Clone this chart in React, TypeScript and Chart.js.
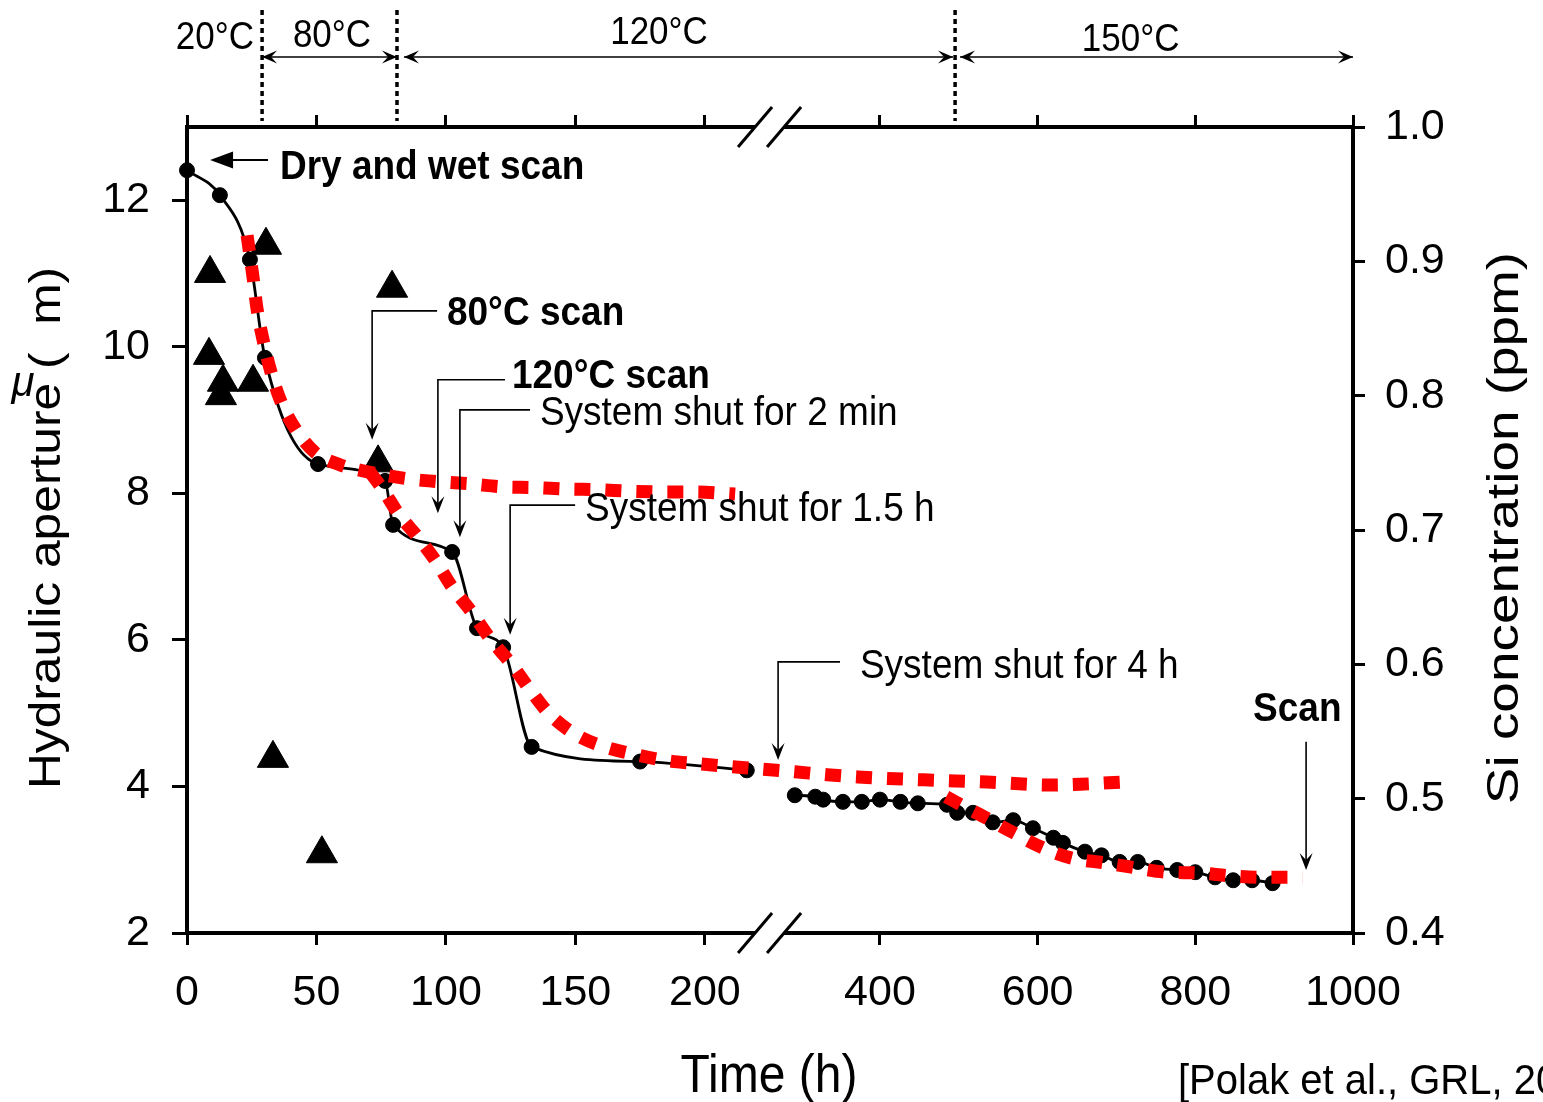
import React, { useEffect, useRef } from 'react';
import { Chart, registerables } from 'chart.js';

Chart.register(...registerables);

// ---- broken time axis: 0–225 h at full scale, 260–1000 h compressed ----
const BREAK_FROM = 225;
const BREAK_TO = 260;
const SECOND_SEGMENT_SCALE = 0.3045;
function toAxis(t: number): number {
  if (t <= BREAK_FROM) return t;
  if (t >= BREAK_TO) return BREAK_FROM + (t - BREAK_TO) * SECOND_SEGMENT_SCALE;
  return BREAK_FROM;
}

// ---- ticks ----
const xTickHours = [0, 50, 100, 150, 200, 400, 600, 800, 1000];
const xTickLabels = ['0', '50', '100', '150', '200', '400', '600', '800', '1000'];
const yTicks = [2, 4, 6, 8, 10, 12];
const y2Ticks = [0.4, 0.5, 0.6, 0.7, 0.8, 0.9, 1.0];

// ---- hydraulic aperture (µm), measured ----
const apertureTime = [
  0, 12.7, 24.3, 30.1, 50.6, 76.5, 79.6, 102.4, 112.0, 122.1, 133.1, 175, 216.2,
  292, 318, 328, 353, 377, 400, 426, 448, 485, 498, 518, 543, 569, 594, 620, 632,
  660, 681, 704, 727, 751, 777, 800, 825, 848, 872, 898,
];
const apertureValue = [
  12.41, 12.07, 11.19, 9.85, 8.40, 8.17, 7.57, 7.20, 6.16, 5.90, 4.54, 4.34, 4.22,
  3.88, 3.86, 3.82, 3.79, 3.79, 3.82, 3.79, 3.77, 3.75, 3.64, 3.64, 3.51, 3.54, 3.43, 3.30, 3.23,
  3.11, 3.06, 2.97, 2.97, 2.89, 2.86, 2.83, 2.76, 2.72, 2.72, 2.68,
];

// ---- Si concentration (ppm) ----
const siTime = [8.9, 30.5, 79.2, 8.5, 13.9, 13.1, 25.5, 73.8, 33.2, 52.1];
const siValue = [0.891, 0.912, 0.880, 0.830, 0.810, 0.800, 0.810, 0.750, 0.530, 0.459];

// ---- red dotted model curves (aperture, µm) ----
const fitATime = [23.2, 25.5, 27.0, 29.4, 32.4, 36.3, 41.7, 49.4, 59.1, 71.8, 85, 96.9, 109.3, 121.7, 133.6, 146.8, 158.7, 171.1, 183.5, 196.2, 211.7];
const fitAValue = [11.52, 10.95, 10.53, 10.09, 9.66, 9.25, 8.89, 8.56, 8.39, 8.28, 8.20, 8.16, 8.13, 8.09, 8.08, 8.06, 8.05, 8.03, 8.02, 8.02, 7.99];
const fitBTime = [70.7, 75.7, 81.5, 89.2, 95.8, 102.4, 109.3, 116.6, 125.5, 132.5, 140.2, 150.6, 161.4, 173.8, 185.8, 197.4, 210.5, 292, 333, 372, 455, 536, 616, 654, 690, 708];
const fitBValue = [8.29, 8.05, 7.73, 7.40, 7.09, 6.72, 6.41, 6.04, 5.66, 5.32, 4.98, 4.70, 4.54, 4.43, 4.35, 4.31, 4.27, 4.20, 4.16, 4.13, 4.09, 4.06, 4.02, 4.03, 4.05, 4.06];
const fitCTime = [484, 499, 533, 569, 605, 644, 683, 724, 764, 803, 844, 884, 936];
const fitCValue = [3.86, 3.77, 3.58, 3.37, 3.17, 3.02, 2.96, 2.89, 2.83, 2.82, 2.78, 2.76, 2.76];

// ---- annotation texts (positions in data units: hours / µm) ----
const leaderNotes = [
  { text: '80°C scan', bold: true, tipT: 71.5, tipV: 8.73, elbowV: 10.49, tailT: 96.6, textT: 100.4, textV: 10.45 },
  { text: '120°C scan', bold: true, tipT: 96.9, tipV: 7.73, elbowV: 9.55, tailT: 122.8, textT: 125.5, textV: 9.59 },
  { text: 'System shut for 2 min', bold: false, tipT: 105.4, tipV: 7.40, elbowV: 9.14, tailT: 132.5, textT: 136.3, textV: 9.08 },
  { text: 'System shut for 1.5 h', bold: false, tipT: 124.8, tipV: 6.07, elbowV: 7.84, tailT: 149.9, textT: 153.7, textV: 7.77 },
  { text: 'System shut for 4 h', bold: false, tipT: 270.8, tipV: 4.36, elbowV: 5.70, tailT: 349.3, textT: 374.6, textV: 5.64 },
];
const tempBoundaries = [29.0, 81.1, 495.3];
const tempLabels = ['20°C', '80°C', '120°C', '150°C'];
const tempLabelHours = [10.8, 56, 182.3, 718];
const tempSpans = [
  [29.0, 81.1],
  [83.8, 492.7],
  [501.6, 1000],
];

const FAMILY = '"Liberation Sans", Arial, Helvetica, sans-serif';

function pts(ts: number[], vs: number[]) {
  return ts.map((t, i) => ({ x: toAxis(t), y: vs[i] }));
}

function txt(
  ctx: CanvasRenderingContext2D,
  s: string,
  x: number,
  y: number,
  o: { size: number; bold?: boolean; italic?: boolean; align?: CanvasTextAlign; baseline?: CanvasTextBaseline; rot?: number; sx?: number; sy?: number }
) {
  ctx.save();
  ctx.translate(x, y);
  if (o.rot) ctx.rotate(o.rot);
  ctx.scale(o.sx ?? 1, o.sy ?? 1);
  ctx.font = `${o.italic ? 'italic ' : ''}${o.bold ? 'bold ' : ''}${o.size}px ${FAMILY}`;
  ctx.textAlign = o.align ?? 'left';
  ctx.textBaseline = o.baseline ?? 'middle';
  ctx.fillStyle = '#000';
  ctx.fillText(s, 0, 0);
  ctx.restore();
}

function head(ctx: CanvasRenderingContext2D, tx: number, ty: number, dx: number, dy: number, len = 15, half = 6, notch = 10) {
  const px = -dy, py = dx;
  ctx.beginPath();
  ctx.moveTo(tx, ty);
  ctx.lineTo(tx - dx * len + px * half, ty - dy * len + py * half);
  ctx.lineTo(tx - dx * notch, ty - dy * notch);
  ctx.lineTo(tx - dx * len - px * half, ty - dy * len - py * half);
  ctx.closePath();
  ctx.fill();
}

const annotPlugin = {
  id: 'annot',
  afterDraw(chart: any) {
    const ctx: CanvasRenderingContext2D = chart.ctx;
    const xs = chart.scales.x;
    const ys = chart.scales.y;
    const X = (t: number) => xs.getPixelForValue(toAxis(t));
    const Y = (v: number) => ys.getPixelForValue(v);
    const a = chart.chartArea;
    ctx.save();
    ctx.fillStyle = '#000';
    ctx.strokeStyle = '#000';

    // axis break marks
    const bx = X(BREAK_FROM);
    const off = 14.5, w = 17, h = 20;
    for (const yy of [a.top, a.bottom]) {
      ctx.fillStyle = '#fff';
      const f = 6 / h;
      ctx.beginPath();
      ctx.moveTo(bx - off - w * f, yy + 6);
      ctx.lineTo(bx - off + w * f, yy - 6);
      ctx.lineTo(bx + off + w * f, yy - 6);
      ctx.lineTo(bx + off - w * f, yy + 6);
      ctx.closePath();
      ctx.fill();
      ctx.strokeStyle = '#000';
      ctx.lineWidth = 3;
      for (const c of [bx - off, bx + off]) {
        ctx.beginPath();
        ctx.moveTo(c - w, yy + h);
        ctx.lineTo(c + w, yy - h);
        ctx.stroke();
      }
    }
    ctx.fillStyle = '#000';

    // temperature stages on top
    ctx.lineWidth = 3.5;
    ctx.setLineDash([5, 4]);
    for (const t of tempBoundaries) {
      ctx.beginPath();
      ctx.moveTo(X(t), 10);
      ctx.lineTo(X(t), a.top - 6);
      ctx.stroke();
    }
    ctx.setLineDash([]);
    const ay = a.top - 70;
    ctx.lineWidth = 1.6;
    for (const [t0, t1] of tempSpans) {
      const x0 = X(t0), x1 = X(t1);
      ctx.beginPath();
      ctx.moveTo(x0, ay);
      ctx.lineTo(x1, ay);
      ctx.stroke();
      head(ctx, x0, ay, -1, 0, 15, 6.5, 9);
      head(ctx, x1, ay, 1, 0, 15, 6.5, 9);
    }
    const tempY = [38, 36, 33, 40];
    tempLabels.forEach((s, i) => {
      txt(ctx, s, X(tempLabelHours[i]), tempY[i], { size: 35, align: 'center', sy: 1.12 });
    });

    // Dry and wet scan
    const dTipX = X(8.9), dY = Y(12.55);
    ctx.lineWidth = 2;
    ctx.beginPath();
    ctx.moveTo(dTipX + 20, dY);
    ctx.lineTo(X(31.3), dY);
    ctx.stroke();
    head(ctx, dTipX, dY, -1, 0, 23, 8.5, 23);
    txt(ctx, 'Dry and wet scan', X(35.9), Y(12.45), { size: 37, bold: true, sy: 1.1 });

    // leader notes
    for (const n of leaderNotes) {
      const tx = X(n.tipT), ty = Y(n.tipV), ey = Y(n.elbowV), lx = X(n.tailT);
      ctx.lineWidth = 1.6;
      ctx.beginPath();
      ctx.moveTo(lx, ey);
      ctx.lineTo(tx, ey);
      ctx.lineTo(tx, ty - 4);
      ctx.stroke();
      head(ctx, tx, ty, 0, 1, 17, 6.5, 10);
      txt(ctx, n.text, X(n.textT), Y(n.textV), { size: 37, bold: n.bold, sy: 1.1 });
    }

    // Scan arrow
    const sx = X(940.5);
    ctx.lineWidth = 1.6;
    ctx.beginPath();
    ctx.moveTo(sx, Y(4.61));
    ctx.lineTo(sx, Y(2.86) - 4);
    ctx.stroke();
    head(ctx, sx, Y(2.86), 0, 1, 17, 6.5, 10);
    txt(ctx, 'Scan', X(873.3), Y(5.04), { size: 37, bold: true, sy: 1.1 });

    // axis titles
    txt(ctx, 'Time (h)', (a.left + a.right) / 2 - 1, 1077, { size: 48, align: 'center', sy: 1.1 });
    txt(ctx, 'Hydraulic aperture (  m)', 60, 528, { size: 44, align: 'center', baseline: 'alphabetic', rot: -Math.PI / 2, sx: 1.13 });
    txt(ctx, 'μ', 23, 384, { size: 42, italic: true, align: 'center' });
    txt(ctx, 'Si concentration (ppm)', 1518, 528, { size: 45, align: 'center', baseline: 'alphabetic', rot: -Math.PI / 2, sx: 1.22 });

    // citation
    txt(ctx, '[Polak et al., GRL, 2003]', 1178, 1082, { size: 40, sy: 1.05 });
    ctx.restore();
  },
};

export default function App() {
  const ref = useRef<HTMLCanvasElement>(null);

  useEffect(() => {
    const preIdx = apertureTime.map((t, i) => i).filter((i) => apertureTime[i] <= BREAK_FROM);
    const postIdx = apertureTime.map((t, i) => i).filter((i) => apertureTime[i] >= BREAK_TO);
    const apPre = preIdx.map((i) => ({ x: toAxis(apertureTime[i]), y: apertureValue[i] }));
    const apPost = postIdx.map((i) => ({ x: toAxis(apertureTime[i]), y: apertureValue[i] }));

    const tickFont = { family: FAMILY, size: 43 };
    const border = { display: true, color: '#000', width: 4 };
    const grid = (len: number) => ({
      drawOnChartArea: false,
      drawTicks: true,
      tickLength: len,
      tickWidth: 3,
      tickColor: '#000',
      color: '#000',
      lineWidth: 3,
    });
    const xTicksBuild = (s: any) => {
      s.ticks = xTickHours.map((h) => ({ value: toAxis(h) }));
    };

    const redLine = (data: any[]) => ({
      type: 'line' as const,
      data,
      yAxisID: 'y',
      borderColor: '#ff0000',
      borderWidth: 13,
      borderDash: [16, 15],
      borderCapStyle: 'butt' as const,
      pointRadius: 0,
      fill: false,
      cubicInterpolationMode: 'monotone' as const,
      order: 0,
    });
    const blackLine = (data: any[]) => ({
      type: 'line' as const,
      data,
      yAxisID: 'y',
      borderColor: '#000',
      borderWidth: 2.8,
      pointRadius: 7.5,
      pointBackgroundColor: '#000',
      pointBorderColor: '#000',
      pointBorderWidth: 1,
      fill: false,
      cubicInterpolationMode: 'monotone' as const,
      clip: false as any,
      order: 2,
    });

    const chart = new Chart(ref.current as HTMLCanvasElement, {
      type: 'line',
      data: {
        datasets: [
          redLine(pts(fitATime, fitAValue)),
          redLine(pts(fitBTime, fitBValue)),
          redLine(pts(fitCTime, fitCValue)),
          {
            type: 'line',
            data: pts(siTime, siValue),
            yAxisID: 'y2',
            showLine: false,
            pointStyle: 'triangle',
            pointRadius: 18,
            pointBackgroundColor: '#000',
            pointBorderColor: '#000',
            pointBorderWidth: 1,
            order: 1,
          } as any,
          blackLine(apPre),
          blackLine(apPost),
        ] as any,
      },
      options: {
        animation: false,
        responsive: false,
        maintainAspectRatio: false,
        devicePixelRatio: 1,
        layout: { padding: 0 },
        plugins: { legend: { display: false }, tooltip: { enabled: false } },
        events: [],
        scales: {
          x: {
            type: 'linear',
            position: 'bottom',
            min: 0,
            max: toAxis(1000),
            afterBuildTicks: xTicksBuild,
            ticks: {
              autoSkip: false,
              maxRotation: 0,
              minRotation: 0,
              padding: 22,
              color: '#000',
              font: tickFont,
              callback: (_v: any, i: number) => xTickLabels[i],
            },
            grid: grid(12),
            border,
            afterFit: (s: any) => {
              s.height = 169;
            },
          },
          xTop: {
            type: 'linear',
            position: 'top',
            min: 0,
            max: toAxis(1000),
            afterBuildTicks: xTicksBuild,
            ticks: { display: false },
            grid: grid(12),
            border,
            afterFit: (s: any) => {
              s.height = 127;
            },
          },
          y: {
            type: 'linear',
            position: 'left',
            min: 2,
            max: 13,
            afterBuildTicks: (s: any) => {
              s.ticks = yTicks.map((v) => ({ value: v }));
            },
            ticks: {
              padding: 22,
              color: '#000',
              font: tickFont,
              callback: (v: any) => String(v),
            },
            grid: grid(15),
            border,
            afterFit: (s: any) => {
              s.width = 187;
            },
          },
          y2: {
            type: 'linear',
            position: 'right',
            min: 0.4,
            max: 1.0,
            afterBuildTicks: (s: any) => {
              s.ticks = y2Ticks.map((v) => ({ value: v }));
            },
            ticks: {
              padding: 20,
              color: '#000',
              font: tickFont,
              callback: (v: any) => Number(v).toFixed(1),
            },
            grid: grid(12),
            border,
            afterFit: (s: any) => {
              s.width = 190;
            },
          },
        },
      } as any,
      plugins: [annotPlugin],
    });
    return () => chart.destroy();
  }, []);

  return (
    <div style={{ position: 'absolute', left: 0, top: 0, width: 1543, height: 1102, background: '#fff', overflow: 'hidden' }}>
      <canvas ref={ref} width={1543} height={1102} style={{ display: 'block', width: 1543, height: 1102 }} />
    </div>
  );
}
